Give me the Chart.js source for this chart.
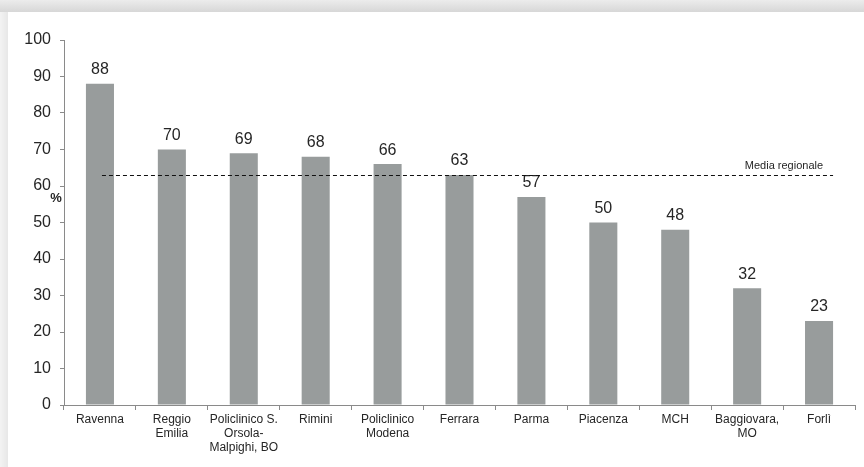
<!DOCTYPE html>
<html lang="it">
<head>
<meta charset="utf-8">
<title>Media regionale per centro</title>
<script src="https://cdn.jsdelivr.net/npm/chart.js@4"></script>
<style>
  html, body { margin: 0; padding: 0; }
  body {
    width: 864px; height: 467px; overflow: hidden; position: relative;
    background: linear-gradient(to right, #f3f3f3 0, #e7e7e7 8px, #e7e7e7 100%);
  }
  .top-shade {
    position: absolute; left: 0; top: 0; width: 864px; height: 12px;
    background: linear-gradient(to bottom, #ececec 0, #d7d7d7 100%);
  }
  .card {
    position: absolute; left: 8px; top: 12px; right: 0; bottom: 0;
    background: #fff;
  }
  .wrap { position: absolute; left: 0; top: 0; width: 864px; height: 467px; }
</style>
</head>
<body>
<div class="top-shade"></div>
<div class="card"></div>
<div class="wrap"><canvas id="chart"></canvas></div>
<script>
// ─── Dati ───────────────────────────────────────────
const centri = [
  'Ravenna', ['Reggio', 'Emilia'], ['Policlinico S.', 'Orsola-', 'Malpighi, BO'],
  'Rimini', ['Policlinico', 'Modena'], 'Ferrara', 'Parma', 'Piacenza', 'MCH',
  ['Baggiovara,', 'MO'], 'Forlì'
];
const percentuali = [88, 70, 69, 68, 66, 63, 57, 50, 48, 32, 23];
const mediaRegionale = 63;
const yTicks = [0, 10, 20, 30, 40, 50, 60, 70, 80, 90, 100];

const FONT = "'Liberation Sans', Arial, sans-serif";
const INK = '#262626';
const AXIS = '#8a8a8a';

// etichette sopra le barre, linea media e "%"
const extras = {
  id: 'extras',
  afterDatasetsDraw(chart) {
    const { ctx, chartArea, scales: { y } } = chart;
    const meta = chart.getDatasetMeta(0);
    ctx.save();
    ctx.fillStyle = INK;
    ctx.font = '16px ' + FONT;
    ctx.textAlign = 'center';
    ctx.textBaseline = 'bottom';
    meta.data.forEach((bar, i) => {
      ctx.fillText(String(percentuali[i]), bar.x, bar.y - 6);
    });

    // linea tratteggiata della media regionale
    const first = meta.data[0];
    const last = meta.data[meta.data.length - 1];
    const my = Math.round(y.getPixelForValue(mediaRegionale)) + 0.5;
    const x0 = first.x + 2;
    const x1 = last.x + last.width / 2;
    ctx.strokeStyle = '#111';
    ctx.lineWidth = 1;
    ctx.setLineDash([4, 3]);
    ctx.beginPath();
    ctx.moveTo(x0, my);
    ctx.lineTo(x1, my);
    ctx.stroke();
    ctx.setLineDash([]);

    ctx.font = '11px ' + FONT;
    ctx.textAlign = 'right';
    ctx.textBaseline = 'alphabetic';
    ctx.fillText('Media regionale', x1 - 10, my - 7);

    // titolo asse y
    ctx.font = 'bold 13px ' + FONT;
    ctx.textAlign = 'center';
    ctx.textBaseline = 'middle';
    ctx.fillText('%', chartArea.left - 8, chartArea.top + chartArea.height * 0.435);
    ctx.restore();
  }
};

new Chart(document.getElementById('chart'), {
  type: 'bar',
  data: {
    labels: centri,
    datasets: [{
      data: percentuali,
      backgroundColor: '#989c9c',
      borderWidth: 0,
      categoryPercentage: 1,
      barPercentage: 0.39,
    }],
  },
  options: {
    responsive: true,
    maintainAspectRatio: false,
    animation: false,
    layout: { padding: { top: 40, right: 9, left: 0, bottom: 0 } },
    plugins: { legend: { display: false }, tooltip: { enabled: false } },
    scales: {
      y: {
        min: 0, max: 100,
        afterBuildTicks: (s) => { s.ticks = yTicks.map((v) => ({ value: v })); },
        afterFit: (s) => { s.width = 64; },
        border: { color: AXIS, width: 1 },
        grid: { drawOnChartArea: false, drawTicks: true, tickLength: 4, color: AXIS },
        ticks: { color: INK, padding: 9, font: { family: FONT, size: 16 } },
      },
      x: {
        afterFit: (s) => { s.height = 62; },
        border: { color: AXIS, width: 1 },
        grid: { drawOnChartArea: false, drawTicks: true, tickLength: 5, color: AXIS, offset: true },
        ticks: {
          color: INK, padding: 3, maxRotation: 0, autoSkip: false,
          font: { family: FONT, size: 12, lineHeight: 1.17 },
        },
      },
    },
  },
  plugins: [extras],
});
</script>
</body>
</html>
